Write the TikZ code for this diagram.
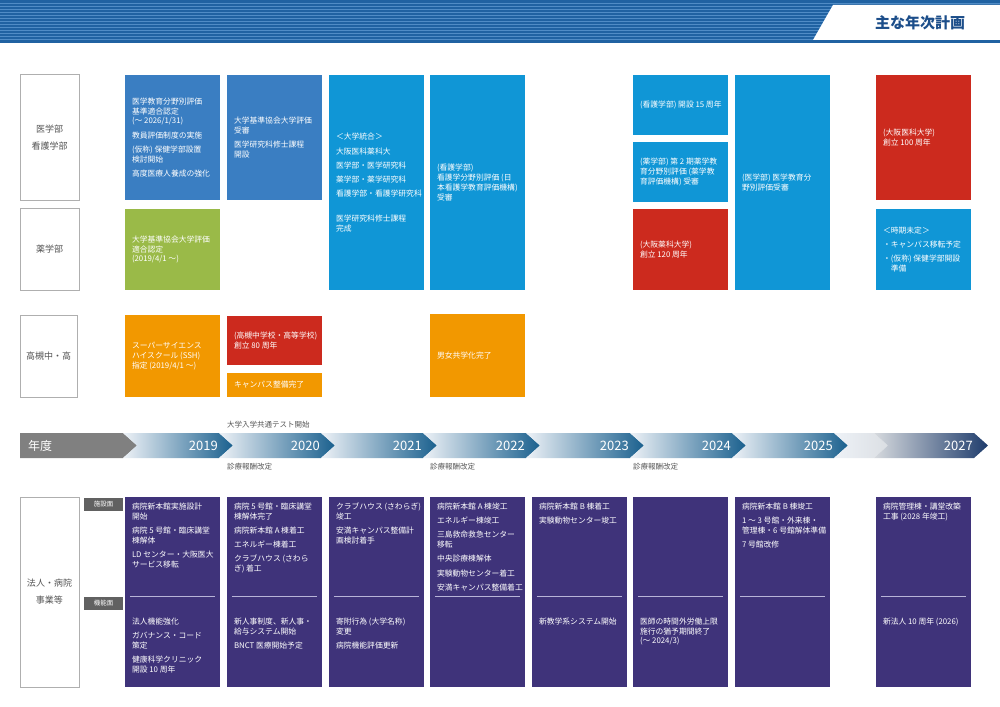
\documentclass[tikz,border=0pt]{standalone}
\usepackage{fontspec}
\setmainfont{Noto Sans CJK JP}
\usepackage{tikz}
\usetikzlibrary{positioning}

\definecolor{medblue}{RGB}{58,126,194}
\definecolor{cyanblue}{RGB}{16,150,214}
\definecolor{leafgreen}{RGB}{154,186,72}
\definecolor{annivred}{RGB}{204,42,30}
\definecolor{schoolorange}{RGB}{242,152,0}
\definecolor{corpviolet}{RGB}{63,51,122}
\definecolor{headblue}{RGB}{32,98,162}
\definecolor{stripeblue}{RGB}{80,140,198}
\definecolor{titleblue}{RGB}{28,78,138}
\definecolor{labelgray}{RGB}{85,85,85}
\definecolor{framegray}{RGB}{175,175,175}
\definecolor{yeardark}{RGB}{26,96,142}
\definecolor{yearlight}{RGB}{238,242,247}
\definecolor{navydark}{RGB}{30,60,108}
\definecolor{divline}{RGB}{184,180,216}

\tikzset{
    planbox/.style={inner sep=0pt, minimum width=95pt},
    plantext/.style={inner sep=0pt, align=left, text=white, font=\fontsize{7.8}{9.7}\selectfont},
    deptlabel/.style={draw=framegray, line width=0.8pt, fill=white, minimum width=59pt,
        align=center, text=labelgray, font=\fontsize{9}{17}\selectfont},
    corpbox/.style={fill=corpviolet, minimum width=95pt, minimum height=190pt, inner sep=0pt},
    tabbox/.style={fill=black!62, text=white, minimum width=39pt, minimum height=13pt,
        inner sep=0pt, font=\fontsize{6.5}{7}\selectfont},
    notetext/.style={text=labelgray, inner sep=0pt, font=\fontsize{7.5}{8}\selectfont},
    yearlabel/.style={text=white, inner sep=0pt, font=\fontsize{13}{14}\selectfont},
}

\begin{document}
\begin{tikzpicture}[x=1pt, y=-1pt]
    \useasboundingbox (0,0) rectangle (1000,706);

    % Header band
    \fill[headblue] (0,0) rectangle (1000,43);
    \foreach \y in {3,6,...,39}
        \draw[stripeblue, line width=0.9pt] (0,\y) -- (1000,\y);
    \fill[white] (813,40) -- (833,5) -- (1000,5) -- (1000,40) -- cycle;
    \node[text=titleblue, font=\fontsize{15}{16}\selectfont] (title) at (920,23) {\bfseries 主な年次計画};

    % Row labels
    \node[deptlabel, minimum height=126pt] (medlab) at (49.5,137.5) {医学部\\看護学部};
    \node[deptlabel, minimum height=82pt] (pharmlab) at (49.5,249.5) {薬学部};
    \node[deptlabel, minimum height=82pt, minimum width=57pt] (schoollab) at (48.5,356) {高槻中・高};
    \node[deptlabel, minimum height=190pt] (corplab) at (49.5,592) {法人・病院\\事業等};

    % 医学部・看護学部・薬学部
    \node[planbox, fill=medblue, minimum height=125pt] (med19) at (172.5,137.5) {};
    \node[plantext, right=7pt of med19.west] (med19t)
        {医学教育分野別評価\\基準適合認定\\(～ 2026/1/31)\\[4.5pt]教員評価制度の実施\\[4.5pt](仮称) 保健学部設置\\検討開始\\[4.5pt]高度医療人養成の強化};
    \node[planbox, fill=medblue, minimum height=125pt] (med20) at (274.5,137.5) {};
    \node[plantext, right=7pt of med20.west] (med20t)
        {大学基準協会大学評価\\受審\\[4.5pt]医学研究科修士課程\\開設};
    \node[planbox, fill=leafgreen, minimum height=81pt] (pharm19) at (172.5,249.5) {};
    \node[plantext, right=7pt of pharm19.west] (pharm19t)
        {大学基準協会大学評価\\適合認定\\(2019/4/1 ～)};
    \node[planbox, fill=cyanblue, minimum height=215pt] (uni21) at (376.5,182.5) {};
    \node[plantext, right=7pt of uni21.west] (uni21t)
        {＜大学統合＞\\[4.5pt]大阪医科薬科大\\[4.5pt]医学部・医学研究科\\[4.5pt]薬学部・薬学研究科\\[4.5pt]看護学部・看護学研究科\\[15pt]医学研究科修士課程\\完成};
    \node[planbox, fill=cyanblue, minimum height=215pt] (nurse22) at (477.5,182.5) {};
    \node[plantext, right=7pt of nurse22.west] (nurse22t)
        {(看護学部)\\看護学分野別評価 (日\\本看護学教育評価機構)\\受審};
    \node[planbox, fill=cyanblue, minimum height=60pt] (nurse24) at (680.5,105) {};
    \node[plantext, right=7pt of nurse24.west] (nurse24t)
        {(看護学部) 開設 15 周年};
    \node[planbox, fill=cyanblue, minimum height=60pt] (pharm24) at (680.5,172) {};
    \node[plantext, right=7pt of pharm24.west] (pharm24t)
        {(薬学部) 第 2 期薬学教\\育分野別評価 (薬学教\\育評価機構) 受審};
    \node[planbox, fill=annivred, minimum height=81pt] (ops24) at (680.5,249.5) {};
    \node[plantext, right=7pt of ops24.west] (ops24t)
        {(大阪薬科大学)\\創立 120 周年};
    \node[planbox, fill=cyanblue, minimum height=215pt] (med25) at (782.5,182.5) {};
    \node[plantext, right=7pt of med25.west] (med25t)
        {(医学部) 医学教育分\\野別評価受審};
    \node[planbox, fill=annivred, minimum height=125pt] (omc27) at (923.5,137.5) {};
    \node[plantext, right=7pt of omc27.west] (omc27t)
        {(大阪医科大学)\\創立 100 周年};
    \node[planbox, fill=cyanblue, minimum height=81pt] (tbd27) at (923.5,249.5) {};
    \node[plantext, right=7pt of tbd27.west] (tbd27t)
        {＜時期未定＞\\[4.5pt]・キャンパス移転予定\\[4.5pt]・(仮称) 保健学部開設\\\hspace*{7.8pt}準備};

    % 高槻中・高
    \node[planbox, fill=schoolorange, minimum height=82pt] (ssh19) at (172.5,356) {};
    \node[plantext, right=7pt of ssh19.west] (ssh19t)
        {スーパーサイエンス\\ハイスクール (SSH)\\指定 (2019/4/1 ～)};
    \node[planbox, fill=annivred, minimum height=49pt] (school20) at (274.5,340.5) {};
    \node[plantext, right=7pt of school20.west] (school20t)
        {(高槻中学校・高等学校)\\創立 80 周年};
    \node[planbox, fill=schoolorange, minimum height=24pt] (campus20) at (274.5,385) {};
    \node[plantext, right=7pt of campus20.west] (campus20t)
        {キャンパス整備完了};
    \node[planbox, fill=schoolorange, minimum height=83pt] (coed22) at (477.5,355.5) {};
    \node[plantext, right=7pt of coed22.west] (coed22t)
        {男女共学化完了};

    % 年度 arrows
    \fill[black!50] (20,433) -- (123,433) -- (137,445.5) -- (123,458) -- (20,458) -- cycle;
    \node[yearlabel, anchor=west, font=\fontsize{12}{13}\selectfont] (yearhead) at (28,445.5) {年度};
    \foreach \a/\b/\yr in {137/233/2019, 233/335/2020, 335/437/2021, 437/540/2022,
                           540/644/2023, 644/746/2024, 746/848/2025} {
        \shade[left color=yearlight, right color=yeardark]
            (\a-14,433) -- (\b-14,433) -- (\b,445.5) -- (\b-14,458) -- (\a-14,458) -- (\a,445.5) -- cycle;
        \node[yearlabel, anchor=east] (y\yr) at (\b-15,446) {\yr};
    }
    \shade[left color=yearlight, right color=black!8!yearlight]
        (834,433) -- (874,433) -- (888,445.5) -- (874,458) -- (834,458) -- (848,445.5) -- cycle;
    \shade[left color=black!10!yearlight, right color=navydark]
        (874,433) -- (974,433) -- (988,445.5) -- (974,458) -- (874,458) -- (888,445.5) -- cycle;
    \node[yearlabel, anchor=east] (y2027) at (973,446) {2027};

    % notes on the year line
    \node[notetext, anchor=west] (exam) at (227,425) {大学入学共通テスト開始};
    \node[notetext, anchor=west] (fee20) at (227,467) {診療報酬改定};
    \node[notetext, anchor=west] (fee22) at (430,467) {診療報酬改定};
    \node[notetext, anchor=west] (fee24) at (633,467) {診療報酬改定};

    % 法人・病院事業等
    \node[tabbox] (facility) at (103.5,504.5) {施設面};
    \node[tabbox] (function) at (103.5,603) {機能面};

    \foreach \n/\x in {c19/172.5, c20/274.5, c21/376.5, c22/477.5, c23/579.5, c24/680.5, c25/782.5, c27/923.5} {
        \node[corpbox] (\n) at (\x,592) {};
        \draw[divline, line width=1.2pt] ([xshift=5pt, yshift=-100pt]\n.north west) -- ([xshift=-5pt, yshift=-100pt]\n.north east);
    }

    \node[plantext, below right=6pt and 7pt of c19.north west] (c19a)
        {病院新本館実施設計\\開始\\[4.5pt]病院 5 号館・臨床講堂\\棟解体\\[4.5pt]LD センター・大阪医大\\サービス移転};
    \node[plantext, below right=121pt and 7pt of c19.north west] (c19b)
        {法人機能強化\\[4.5pt]ガバナンス・コード\\策定\\[4.5pt]健康科学クリニック\\開設 10 周年};
    \node[plantext, below right=6pt and 7pt of c20.north west] (c20a)
        {病院 5 号館・臨床講堂\\棟解体完了\\[4.5pt]病院新本館 A 棟着工\\[4.5pt]エネルギー棟着工\\[4.5pt]クラブハウス (さわら\\ぎ) 着工};
    \node[plantext, below right=121pt and 7pt of c20.north west] (c20b)
        {新人事制度、新人事・\\給与システム開始\\[4.5pt]BNCT 医療開始予定};
    \node[plantext, below right=6pt and 7pt of c21.north west] (c21a)
        {クラブハウス (さわらぎ)\\竣工\\[4.5pt]安満キャンパス整備計\\画検討着手};
    \node[plantext, below right=121pt and 7pt of c21.north west] (c21b)
        {寄附行為 (大学名称)\\変更\\[4.5pt]病院機能評価更新};
    \node[plantext, below right=6pt and 7pt of c22.north west] (c22a)
        {病院新本館 A 棟竣工\\[4.5pt]エネルギー棟竣工\\[4.5pt]三島救命救急センター\\移転\\[4.5pt]中央診療棟解体\\[4.5pt]実験動物センター着工\\[4.5pt]安満キャンパス整備着工};
    \node[plantext, below right=6pt and 7pt of c23.north west] (c23a)
        {病院新本館 B 棟着工\\[4.5pt]実験動物センター竣工};
    \node[plantext, below right=121pt and 7pt of c23.north west] (c23b)
        {新教学系システム開始};
    \node[plantext, below right=121pt and 7pt of c24.north west] (c24b)
        {医師の時間外労働上限\\施行の猶予期間終了\\(～ 2024/3)};
    \node[plantext, below right=6pt and 7pt of c25.north west] (c25a)
        {病院新本館 B 棟竣工\\[4.5pt]1 ～ 3 号館・外来棟・\\管理棟・6 号館解体準備\\[4.5pt]7 号館改修};
    \node[plantext, below right=6pt and 7pt of c27.north west] (c27a)
        {病院管理棟・講堂改築\\工事 (2028 年竣工)};
    \node[plantext, below right=121pt and 7pt of c27.north west] (c27b)
        {新法人 10 周年 (2026)};
\end{tikzpicture}
\end{document}
